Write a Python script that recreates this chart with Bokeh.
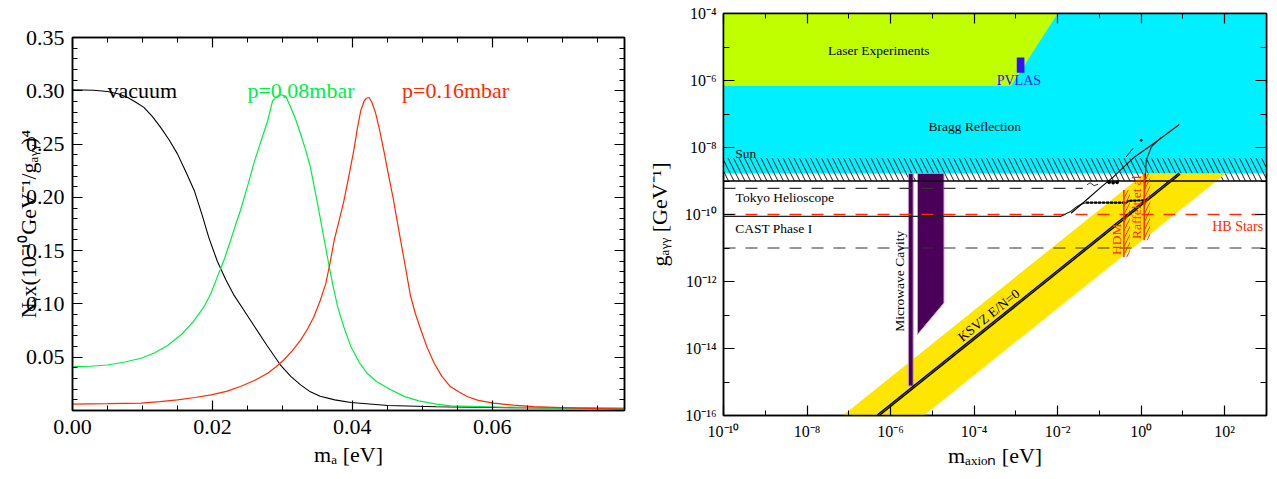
import math
from bokeh.plotting import figure
from bokeh.models import (FixedTicker, PrintfTickFormatter, LinearAxis, LogAxis, Label,
                          CustomJSTickFormatter, Range1d)
from bokeh.layouts import row
from bokeh.embed import file_html
from bokeh.resources import INLINE

FONT = "Liberation Serif"

# ---------------- left panel data ----------------
vacuum_m = [0.000, 0.0030, 0.0050, 0.0065, 0.0079, 0.0090, 0.0102, 0.0114, 0.0126, 0.0138,
            0.0150, 0.0162, 0.0174, 0.0185, 0.0195, 0.0207, 0.0219, 0.0231, 0.0245, 0.0259,
            0.0278, 0.0298, 0.0312, 0.0326, 0.0340, 0.0354, 0.0375, 0.0398, 0.0451, 0.0520,
            0.0600, 0.0700, 0.0789]
vacuum_n = [0.3010, 0.3005, 0.2994, 0.2972, 0.2937, 0.2895, 0.2844, 0.2760, 0.2657, 0.2540,
            0.2408, 0.2240, 0.2065, 0.1840, 0.1620, 0.1400, 0.1230, 0.1080, 0.0940, 0.0800,
            0.0610, 0.0420, 0.0320, 0.0240, 0.0175, 0.0133, 0.0100, 0.0075, 0.0047, 0.0035,
            0.0028, 0.0024, 0.0021]

green_m = [0.000, 0.0025, 0.0050, 0.0075, 0.0098, 0.0117, 0.0136, 0.0157, 0.0172, 0.0188,
           0.0198, 0.0207, 0.0217, 0.0226, 0.0233, 0.0240, 0.0250, 0.0259, 0.0269, 0.0279,
           0.0286, 0.0292, 0.0298, 0.0305, 0.0312, 0.0319, 0.0326, 0.0333, 0.0340, 0.0350,
           0.0360, 0.0367, 0.0373, 0.0379, 0.0388, 0.0398, 0.0410, 0.0421, 0.0435, 0.0455,
           0.0475, 0.0495, 0.0520, 0.0540, 0.0612, 0.0700, 0.0789]
green_n = [0.0412, 0.0415, 0.0427, 0.0455, 0.0490, 0.0540, 0.0610, 0.0720, 0.0830, 0.0973,
           0.1100, 0.1254, 0.1420, 0.1597, 0.1740, 0.1877, 0.2100, 0.2314, 0.2520, 0.2719,
           0.2906, 0.2945, 0.2963, 0.2947, 0.2844, 0.2730, 0.2595, 0.2450, 0.2283, 0.1950,
           0.1597, 0.1347, 0.1150, 0.0973, 0.0780, 0.0599, 0.0450, 0.0350, 0.0270, 0.0194,
           0.0130, 0.0090, 0.0060, 0.0044, 0.0032, 0.0022, 0.0016]

red_m = [0.000, 0.0050, 0.0098, 0.0125, 0.0150, 0.0175, 0.0198, 0.0220, 0.0240, 0.0260,
         0.0279, 0.0291, 0.0302, 0.0314, 0.0326, 0.0336, 0.0345, 0.0354, 0.0362, 0.0368,
         0.0374, 0.0381, 0.0388, 0.0395, 0.0402, 0.0407, 0.0412, 0.0417, 0.0420, 0.0424,
         0.0428, 0.0433, 0.0439, 0.0445, 0.0452, 0.0459, 0.0464, 0.0469, 0.0476, 0.0483,
         0.0490, 0.0498, 0.0507, 0.0517, 0.0528, 0.0540, 0.0552, 0.0564, 0.0580, 0.0602,
         0.0630, 0.0659, 0.0720, 0.0789]
red_n = [0.0060, 0.0064, 0.0070, 0.0083, 0.0100, 0.0122, 0.0147, 0.0180, 0.0225, 0.0282,
         0.0350, 0.0410, 0.0474, 0.0560, 0.0661, 0.0765, 0.0879, 0.1030, 0.1190, 0.1380,
         0.1597, 0.1780, 0.1970, 0.2200, 0.2439, 0.2640, 0.2813, 0.2906, 0.2930, 0.2937,
         0.2890, 0.2797, 0.2630, 0.2439, 0.2200, 0.1970, 0.1780, 0.1597, 0.1340, 0.1080,
         0.0910, 0.0755, 0.0590, 0.0443, 0.0320, 0.0225, 0.0175, 0.0131, 0.0095, 0.0069,
         0.0050, 0.0037, 0.0022, 0.0013]

left_xticks = [0.00, 0.02, 0.04, 0.06]
left_xminor = [0.005 * i for i in range(16)]
left_yticks = [0.05, 0.10, 0.15, 0.20, 0.25, 0.30, 0.35]
left_yminor = [0.01 * i for i in range(36)]

# ---------------- right panel data ----------------
bragg_g = [1.7e-9, 1e-4]
laser_m = [1e-10, 1e-10, 1e-2, 7.6e-4]
laser_g = [6.8e-7, 1e-4, 1e-4, 6.8e-7]
pvlas_m = [1.05e-3, 1.6e-3]
pvlas_g = [1.7e-6, 4.9e-6]
sun_g = [1e-9, 4.8e-9]
band_m = [7.2e-8, 6.3e-6, 108.0, 1.22]
band_g = [1e-16, 1e-16, 1.7e-9, 1.7e-9]
ksvz_m = [5e-7, 8.3]
ksvz_g = [1e-16, 1.66e-9]
cavity1_m = [2.66e-6, 3.48e-6]
cavity1_g = [7.6e-16, 1.7e-9]
cavity2_m = [4.4e-6, 1.9e-5, 1.9e-5, 4.4e-6]
cavity2_g = [1.7e-9, 1.7e-9, 2.3e-13, 2.6e-14]
tokyo_dash_m = [1e-10, 0.04]
tokyo_dash_g = [6e-10, 6e-10]
hb_g = 1e-10
dash11_g = 1e-11
sun_line_g = 1e-9
cast_m = [1e-10, 0.012, 0.0209, 0.0275, 0.0363, 0.0479, 0.437, 0.488, 1.18, 1.32, 1.74, 3.02]
cast_g = [8.8e-11, 8.8e-11, 1.26e-10, 1.65e-10, 2.03e-10, 2.25e-10, 2.25e-10, 2.55e-10,
          2.67e-10, 4.18e-9, 1.02e-8, 2.03e-8]
cast_thick_m = [0.0479, 0.437, 0.488, 1.18]
cast_thick_g = [2.25e-10, 2.25e-10, 2.55e-10, 2.67e-10]
diag_m = [0.0209, 0.0479, 0.1096, 0.213, 0.679, 2.56, 8.17]
diag_g = [1.09e-10, 2.67e-10, 6.53e-10, 1.30e-9, 5.13e-9, 1.65e-8, 4.86e-8]
jag_m = [0.0506, 0.0597, 0.0745, 0.0929]
jag_g = [7.66e-10, 8.89e-10, 7.24e-10, 8.02e-10]
dots_m = [0.171, 0.213, 0.265]
dots_g = [9.2e-10, 9.0e-10, 9.2e-10]
seg_m = [0.437, 0.632]
seg_g = [5.24e-9, 9.33e-9]
dot1_m = [1.0]
dot1_g = [1.65e-8]
hdm_m = 0.385
hdm_g = [5.4e-12, 5.4e-10]
raff_m = 1.18
raff_g = [1.7e-11, 1.67e-9]

right_xticks = [10.0 ** e for e in range(-10, 3, 2)]
right_xminor = [10.0 ** e for e in range(-10, 4)]
right_yticks = [10.0 ** e for e in range(-16, -3, 2)]
right_yminor = [10.0 ** e for e in range(-16, -3)]

CYAN = "#00f0ff"
LIME = "#c0ff00"
YELLOW = "#ffe600"
PURPLE = "#4a0058"
RED = "#ff2a00"
GREEN = "#00ee44"
BLUE = "#3010ff"


def style_axis(ax, size, standoff, maj=10, mnr=5):
    ax.major_tick_in = maj
    ax.major_tick_out = 0
    ax.minor_tick_in = mnr
    ax.minor_tick_out = 0
    ax.axis_line_color = "black"
    ax.axis_line_width = 1.5
    ax.major_tick_line_color = "black"
    ax.minor_tick_line_color = "black"
    ax.major_tick_line_width = 1.2
    ax.major_label_text_font = FONT
    ax.major_label_text_font_size = size
    ax.major_label_text_color = "black"
    ax.major_label_standoff = standoff
    ax.axis_label_text_font = FONT
    ax.axis_label_text_font_style = "normal"
    ax.axis_label_text_color = "black"


empty_fmt = "return '';"
H = 477
W1 = 640
P2_LEFT = 723 - W1
W2 = 1266 - W1 + 9

# ---------------- left figure ----------------
p1 = figure(width=W1, height=H, x_range=Range1d(0, 0.0789), y_range=Range1d(0, 0.35),
            output_backend="svg", toolbar_location=None,
            min_border_left=72, min_border_right=W1 - 624, min_border_top=37,
            min_border_bottom=H - 410)
p1.grid.visible = False
p1.outline_line_color = "black"
p1.outline_line_width = 1.5

p1.xaxis.ticker = FixedTicker(ticks=left_xticks, minor_ticks=left_xminor)
p1.yaxis.ticker = FixedTicker(ticks=left_yticks, minor_ticks=left_yminor)
p1.xaxis.formatter = PrintfTickFormatter(format="%.2f")
p1.yaxis.formatter = PrintfTickFormatter(format="%.2f")
style_axis(p1.xaxis[0], "22px", 9)
style_axis(p1.yaxis[0], "22px", 8)
p1.xaxis.axis_label = "mₐ [eV]"
p1.xaxis.axis_label_text_font_size = "22px"
p1.xaxis.axis_label_standoff = 5
p1.yaxis.axis_label = "Nᵧx(10⁻¹⁰GeV⁻¹/gₐᵧᵧ)⁴"
p1.yaxis.axis_label_text_font_size = "22px"
p1.yaxis.axis_label_standoff = -18

top1 = LinearAxis(ticker=FixedTicker(ticks=left_xticks, minor_ticks=left_xminor),
                  formatter=CustomJSTickFormatter(code=empty_fmt))
right1 = LinearAxis(ticker=FixedTicker(ticks=left_yticks, minor_ticks=left_yminor),
                    formatter=CustomJSTickFormatter(code=empty_fmt))
style_axis(top1, "1px", 0)
style_axis(right1, "1px", 0)
p1.add_layout(top1, "above")
p1.add_layout(right1, "right")

p1.line(vacuum_m, vacuum_n, line_color="black", line_width=1.1)
p1.line(green_m, green_n, line_color=GREEN, line_width=1.2)
p1.line(red_m, red_n, line_color=RED, line_width=1.2)

for txt, x, col in [("vacuum", 0.0050, "black"), ("p=0.08mbar", 0.0250, GREEN),
                    ("p=0.16mbar", 0.0471, RED)]:
    p1.add_layout(Label(x=x, y=0.300, text=txt, text_color=col, text_font=FONT,
                        text_font_size="22px", text_align="left", text_baseline="alphabetic"))

# ---------------- right figure ----------------
p2 = figure(width=W2, height=H, x_axis_type="log", y_axis_type="log",
            x_range=Range1d(1e-10, 1e3), y_range=Range1d(1e-16, 1e-4),
            output_backend="svg", toolbar_location=None,
            min_border_left=P2_LEFT, min_border_right=9, min_border_top=13,
            min_border_bottom=H - 415)
p2.grid.visible = False
p2.outline_line_color = "black"
p2.outline_line_width = 1.5

log_fmt = """
const e = Math.round(Math.log10(tick));
const sup = {"-":"\u207b","0":"\u2070","1":"\u00b9","2":"\u00b2","3":"\u00b3","4":"\u2074",
             "5":"\u2075","6":"\u2076","7":"\u2077","8":"\u2078","9":"\u2079"};
return "10" + String(e).split("").map(c => sup[c]).join("");
"""
p2.xaxis.ticker = FixedTicker(ticks=right_xticks, minor_ticks=right_xminor)
p2.yaxis.ticker = FixedTicker(ticks=right_yticks, minor_ticks=right_yminor)
p2.xaxis.formatter = CustomJSTickFormatter(code=log_fmt)
p2.yaxis.formatter = CustomJSTickFormatter(code=log_fmt)
style_axis(p2.xaxis[0], "16px", 7, 10, 5)
style_axis(p2.yaxis[0], "16px", 7, 11, 6)
p2.xaxis.axis_label = "mₐₓᵢₒₙ [eV]"
p2.xaxis.axis_label_text_font_size = "22px"
p2.xaxis.axis_label_standoff = 0
p2.yaxis.axis_label = "gₐᵧᵧ [GeV⁻¹]"
p2.yaxis.axis_label_text_font_size = "22px"
p2.yaxis.axis_label_standoff = 10

top2 = LogAxis(ticker=FixedTicker(ticks=right_xticks, minor_ticks=right_xminor),
               formatter=CustomJSTickFormatter(code=empty_fmt))
right2 = LogAxis(ticker=FixedTicker(ticks=right_yticks, minor_ticks=right_yminor),
                 formatter=CustomJSTickFormatter(code=empty_fmt))
style_axis(top2, "1px", 0, 10, 5)
style_axis(right2, "1px", 0, 11, 6)
p2.add_layout(top2, "above")
p2.add_layout(right2, "right")

# regions
p2.quad(left=1e-10, right=1e3, bottom=bragg_g[0], top=bragg_g[1], fill_color=CYAN, line_color=None)
p2.patch(laser_m, laser_g, fill_color=LIME, line_color=None)
p2.quad(left=pvlas_m[0], right=pvlas_m[1], bottom=pvlas_g[0], top=pvlas_g[1],
        fill_color=BLUE, line_color=None)
p2.quad(left=1e-10, right=1e3, bottom=sun_g[0], top=sun_g[1], fill_color=None, line_color=None,
        hatch_pattern="\\", hatch_color="black", hatch_scale=11, hatch_weight=0.9)
p2.patch(band_m, band_g, fill_color=YELLOW, line_color=None)

# microwave cavity
p2.quad(left=cavity1_m[0], right=cavity1_m[1], bottom=cavity1_g[0], top=cavity1_g[1],
        fill_color=PURPLE, line_color="#c9a6d3", line_width=1)
p2.patch(cavity2_m, cavity2_g, fill_color=PURPLE, line_color="#c9a6d3", line_width=1)

# horizontal limits
p2.line([1e-10, 1e3], [sun_line_g, sun_line_g], line_color="black", line_width=1.5)
p2.line(tokyo_dash_m, tokyo_dash_g, line_color="#333333", line_width=1.2, line_dash="12 10")
p2.line([1e-10, 1e3], [hb_g, hb_g], line_color=RED, line_width=1.3, line_dash="12 10")
p2.line([1e-10, 1e3], [dash11_g, dash11_g], line_color="#333333", line_width=1.2, line_dash="12 10")
p2.line(cast_m, cast_g, line_color="#222222", line_width=1.1)
p2.line(cast_thick_m, cast_thick_g, line_color="black", line_width=2.2, line_dash="3 1")
p2.line(diag_m, diag_g, line_color="black", line_width=1.1)
p2.line(jag_m, jag_g, line_color="black", line_width=0.8)
p2.scatter(dots_m, dots_g, size=3, color="black")
p2.line(seg_m, seg_g, line_color="black", line_width=1)
p2.scatter(dot1_m, dot1_g, size=2, color="black")

# KSVZ line
p2.line(ksvz_m, ksvz_g, line_color="black", line_width=3)
p2.line(ksvz_m, ksvz_g, line_color="#7a6a00", line_width=0.8)

# HDM / Raffelt limits
tick_w = 10 ** (6 / 41.67)
p2.quad(left=hdm_m, right=hdm_m * tick_w, bottom=hdm_g[0], top=hdm_g[1], fill_color=None,
        line_color=None, hatch_pattern="/", hatch_color=RED, hatch_scale=8, hatch_weight=0.9)
p2.quad(left=raff_m, right=raff_m * tick_w, bottom=raff_g[0], top=raff_g[1], fill_color=None,
        line_color=None, hatch_pattern="/", hatch_color=RED, hatch_scale=8, hatch_weight=0.9)
p2.line([hdm_m, hdm_m], hdm_g, line_color=RED, line_width=1.5)
p2.line([raff_m, raff_m], raff_g, line_color=RED, line_width=1.5)


def lab(x, y, t, col="black", align="center", angle=0.0, size="13.5px"):
    p2.add_layout(Label(x=x, y=y, text=t, text_color=col, text_font=FONT, text_font_size=size,
                        text_align=align, text_baseline="middle", angle=angle))


lab(5.2e-7, 8.0e-6, "Laser Experiments")
lab(1.18e-3, 1.02e-6, "PVLAS", col=BLUE, size="14px")
lab(1.04e-4, 4.12e-8, "Bragg Reflection")
lab(1.9e-10, 6.6e-9, "Sun", align="left")
lab(1.95e-10, 3.13e-10, "Tokyo Helioscope", align="left")
lab(1.9e-10, 3.82e-11, "CAST Phase I", align="left")
lab(832.0, 4.47e-11, "HB Stars", col=RED, align="right", size="14px")
lab(1.6e-6, 1.02e-12, "Microwave Cavity", angle=math.pi / 2)
lab(2.25e-4, 9.86e-14, "KSVZ E/N=0", angle=math.atan(33.5 / 41.67))
lab(0.251, 1.83e-11, "HDM", col=RED, angle=math.pi / 2)
lab(0.759, 1.65e-10, "Raffelt et al", col=RED, angle=math.pi / 2)

TEMPLATE = """
{% block contents %}
{% from macros import embed %}
<div style="display: flex; flex-direction: row; align-items: flex-start; margin: 0; padding: 0;">
{{ embed(roots[0]) }}
{{ embed(roots[1]) }}
</div>
{% endblock %}
"""

try:
    html = file_html([p1, p2], INLINE, template=TEMPLATE)
except Exception:
    html = file_html(row(p1, p2), INLINE)
open("out.html", "w").write(html)
